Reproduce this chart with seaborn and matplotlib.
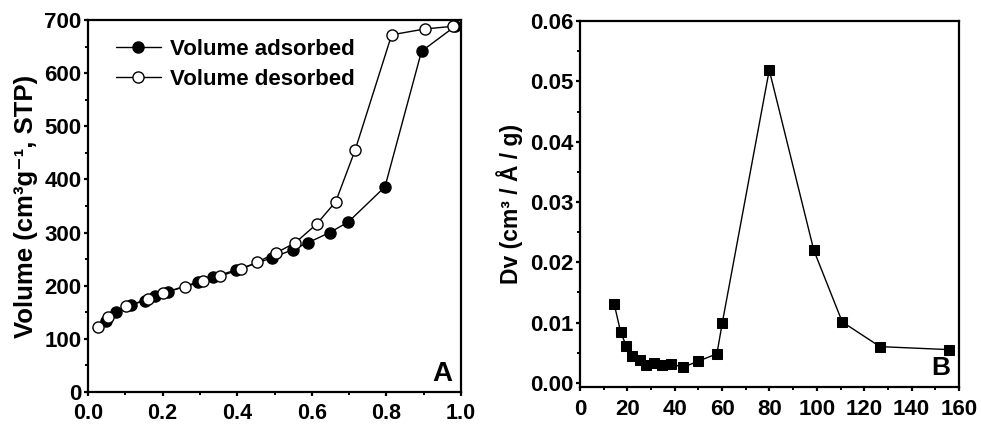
import matplotlib
matplotlib.use("Agg")
import matplotlib.pyplot as plt
import seaborn as sns
import pandas as pd
from matplotlib.ticker import MultipleLocator

# ---- data ----
ads_p = [0.049, 0.076, 0.116, 0.152, 0.179, 0.215, 0.295, 0.335, 0.398, 0.492,
         0.550, 0.590, 0.648, 0.698, 0.796, 0.894, 0.984]
ads_v = [134, 150, 164, 172, 181, 189, 207, 216, 230, 252,
         268, 281, 300, 320, 386, 641, 688]

des_p = [0.027, 0.054, 0.103, 0.161, 0.201, 0.259, 0.309, 0.353, 0.411, 0.453,
         0.505, 0.556, 0.613, 0.664, 0.716, 0.814, 0.903, 0.978]
des_v = [122, 141, 161, 175, 186, 198, 208, 218, 231, 244,
         262, 281, 316, 358, 455, 672, 683, 688]

pore_d = [14.5, 17.2, 19.6, 22.0, 25.3, 27.9, 31.1, 34.5, 38.4, 43.7,
          50.0, 57.8, 60.1, 79.9, 98.7, 110.7, 126.6, 155.7]
pore_dv = [0.0130, 0.00835, 0.0061, 0.0045, 0.0038, 0.0030, 0.0032, 0.0030, 0.0031, 0.0026,
           0.0036, 0.0048, 0.0100, 0.0519, 0.0220, 0.0101, 0.0060, 0.0055]

xticks_a = [0.0, 0.2, 0.4, 0.6, 0.8, 1.0]
yticks_a = [0, 100, 200, 300, 400, 500, 600, 700]
xticks_b = [0, 20, 40, 60, 80, 100, 120, 140, 160]
yticks_b = [0.00, 0.01, 0.02, 0.03, 0.04, 0.05, 0.06]

sns.set_theme(style="ticks")
plt.rcParams['font.family'] = ['Liberation Sans', 'DejaVu Sans']
plt.rcParams['font.weight'] = 'bold'
plt.rcParams['axes.labelweight'] = 'bold'
plt.rcParams['text.color'] = 'black'
plt.rcParams['axes.labelcolor'] = 'black'
plt.rcParams['xtick.color'] = 'black'
plt.rcParams['ytick.color'] = 'black'

TICK_FS = 16

fig = plt.figure(figsize=(9.81, 4.24), dpi=100)
axA = fig.add_axes([0.0897, 0.0755, 0.3803, 0.8775])
axB = fig.add_axes([0.5912, 0.0873, 0.3864, 0.8627])

dfa = pd.DataFrame({"p": ads_p, "v": ads_v})
dfd = pd.DataFrame({"p": des_p, "v": des_v})
dfb = pd.DataFrame({"d": pore_d, "dv": pore_dv})

sns.lineplot(data=dfa, x="p", y="v", ax=axA, color="black", lw=1.0, marker="o",
             markersize=8, markerfacecolor="black", markeredgecolor="black",
             markeredgewidth=1.0, label="Volume adsorbed", estimator=None, sort=False)
sns.lineplot(data=dfd, x="p", y="v", ax=axA, color="black", lw=1.0, marker="o",
             markersize=8, markerfacecolor="white", markeredgecolor="black",
             markeredgewidth=1.0, label="Volume desorbed", estimator=None, sort=False)

sns.lineplot(data=dfb, x="d", y="dv", ax=axB, color="black", lw=1.0, marker="s",
             markersize=7.5, markerfacecolor="black", markeredgecolor="black",
             estimator=None, sort=False, legend=False)

for ax in (axA, axB):
    for s in ax.spines.values():
        s.set_linewidth(1.6)
        s.set_color("black")
        s.set_visible(True)
    ax.tick_params(axis="both", which="major", direction="out", length=3, width=1.6,
                   labelsize=TICK_FS, colors="black", top=False, right=False)
    ax.tick_params(axis="y", which="major", pad=1.5)
    ax.tick_params(axis="both", which="minor", direction="out", length=2, width=1.4,
                   top=False, right=False)
axA.tick_params(axis="x", which="major", pad=4.6)
axB.tick_params(axis="x", which="major", pad=6)

axA.set_xlim(0, 1.0)
axA.set_ylim(0, 700)
axA.set_xticks(xticks_a)
axA.set_xticklabels([f"{t:.1f}" for t in xticks_a], fontweight="bold", fontsize=15.5)
axA.set_yticks(yticks_a)
axA.set_yticklabels([str(t) for t in yticks_a], fontweight="bold", fontsize=TICK_FS)
axA.xaxis.set_minor_locator(MultipleLocator(0.1))
axA.yaxis.set_minor_locator(MultipleLocator(50))
axA.set_xlabel("")
axA.set_ylabel("Volume (cm³g⁻¹, STP)", fontsize=18.5, fontweight="bold",
               labelpad=5, color="black")
axA.text(0.976, 0.03, "A", transform=axA.transAxes, fontsize=20, fontweight="bold",
         ha="right", va="baseline", color="black")
leg = axA.legend(loc="upper left", bbox_to_anchor=(0.04, 0.985), frameon=False,
                 prop={"size": 16, "weight": "bold"}, handlelength=2.0,
                 handletextpad=0.4, labelspacing=0.4, borderaxespad=0.2)
for t in leg.get_texts():
    t.set_color("black")

axB.set_xlim(0, 160)
axB.set_ylim(-0.0007, 0.06)
axB.set_xticks(xticks_b)
axB.set_xticklabels([str(t) for t in xticks_b], fontweight="bold", fontsize=TICK_FS)
axB.set_yticks(yticks_b)
axB.set_yticklabels([f"{t:.2f}" for t in yticks_b], fontweight="bold", fontsize=TICK_FS)
axB.xaxis.set_minor_locator(MultipleLocator(10))
axB.yaxis.set_minor_locator(MultipleLocator(0.005))
axB.set_xlabel("")
axB.set_ylabel("Dv (cm³ / Å / g)", fontsize=16.5, fontweight="bold",
               labelpad=5, color="black")
axB.text(0.976, 0.033, "B", transform=axB.transAxes, fontsize=19, fontweight="bold",
         ha="right", va="baseline", color="black")

fig.savefig("out.png", dpi=100)
